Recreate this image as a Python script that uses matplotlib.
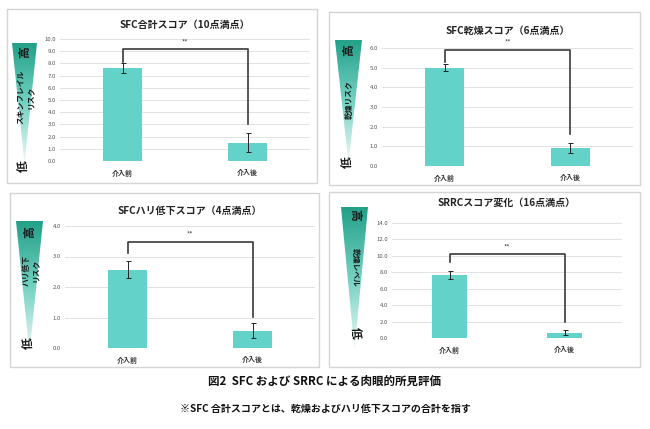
import numpy as np
import matplotlib
matplotlib.use("Agg")
import matplotlib.pyplot as plt
from matplotlib.patches import Rectangle, Polygon
from matplotlib.colors import LinearSegmentedColormap

plt.rcParams['font.family'] = ['Noto Sans CJK JP', 'DejaVu Sans']

W, H = 650, 429

categories = ['介入前', '介入後']

# values
sfc_total = [7.6, 1.5]
sfc_total_err = [0.4, 0.8]
sfc_dry = [5.0, 0.93]
sfc_dry_err = [0.17, 0.26]
sfc_firm = [2.57, 0.57]
sfc_firm_err = [0.28, 0.24]
srrc = [7.7, 0.62]
srrc_err = [0.5, 0.3]

titles = ['SFC合計スコア（10点満点）', 'SFC乾燥スコア（6点満点）',
          'SFCハリ低下スコア（4点満点）', 'SRRCスコア変化（16点満点）']
side_labels = ['スキンフレイル\nリスク', '乾燥リスク', 'ハリ低下\nリスク', '乾燥レベル']
ymax = [10, 6, 4, 14]
ystep = [1, 1, 1, 2]
# significance bracket: top, left end, right end (data units)
bracket_top = [9.15, 5.9, 3.47, 10.2]
bracket_left = [8.15, 5.3, 3.1, 9.3]
bracket_right = [3.0, 1.63, 1.03, 1.9]

values = [sfc_total, sfc_dry, sfc_firm, srrc]
errors = [sfc_total_err, sfc_dry_err, sfc_firm_err, srrc_err]

# layout in pixels (x0, y_top, x1, y_bottom)
axes_px = [(60, 39, 310, 161), (382, 48, 633, 166),
           (65, 226, 315, 348), (392, 223, 622, 338)]
border_px = [(7, 9, 317, 183), (329, 12, 640, 185),
             (10, 193, 319, 367), (329, 192, 640, 367)]
tri_px = [(12, 37, 43, 163), (335, 362, 40, 163),
          (16, 43, 221, 353), (341, 368, 207, 350)]
title_y = [25, 31, 211, 203]
hi_y = [52, 50, 232, 215]
lo_y = [166, 162, 343, 333]
side_y = [97, 100, 270, 267]
rot = [90, 90, 90, -90]

bar_color = '#63D3C9'
cmap = LinearSegmentedColormap.from_list('tri', ['#22A088', '#74D2C2', '#EEF9F7'])


def fx(x):
    return x / W


def fy(y):
    return 1 - y / H


fig = plt.figure(figsize=(W / 100, H / 100), dpi=100)

for i in range(4):
    # panel frame
    bx0, by0, bx1, by1 = border_px[i]
    fig.patches.append(Rectangle((fx(bx0), fy(by1)), fx(bx1 - bx0), (by1 - by0) / H,
                                 transform=fig.transFigure, fill=False,
                                 edgecolor='#D4D4D4', linewidth=1.0))

    x0, yt, x1, yb = axes_px[i]
    ax = fig.add_axes([fx(x0), fy(yb), fx(x1 - x0), (yb - yt) / H])
    xs = np.arange(len(categories))
    ax.bar(xs, values[i], width=0.31, color=bar_color, zorder=2)
    ax.errorbar(xs, values[i], yerr=errors[i], fmt='none', ecolor='#222222',
                elinewidth=0.7, capsize=1.8, capthick=0.7, zorder=3)
    ax.set_xlim(-0.5, 1.5)
    ax.set_ylim(0, ymax[i])
    ticks = np.arange(0, ymax[i] + 0.01, ystep[i])
    ax.set_yticks(ticks)
    ax.set_yticklabels(['%.1f' % v for v in ticks], fontsize=4.3, color='#555555')
    ax.set_xticks(xs)
    ax.set_xticklabels(categories, fontsize=5, fontweight='bold', color='#333333')
    ax.tick_params(length=0, pad=3)
    ax.tick_params(axis='x', pad=6)
    ax.grid(axis='y', color='#E2E2E2', linewidth=0.7, zorder=0)
    ax.set_axisbelow(True)
    for s in ax.spines.values():
        s.set_visible(False)
    fig.text(fx((x0 + x1) / 2), fy(title_y[i]), titles[i], fontsize=7.2,
             fontweight='bold', color='#222222', ha='center', va='center')

    # bracket
    ax.plot([0, 0, 1, 1], [bracket_left[i], bracket_top[i], bracket_top[i], bracket_right[i]],
            color='#3A3A3A', linewidth=1.2, zorder=4, clip_on=False)
    ax.text(0.5, bracket_top[i] + ymax[i] * 0.025, '**', ha='center', va='bottom',
            fontsize=5, color='#444444')

    # gradient triangle
    tx0, tx1, ty0, ty1 = tri_px[i]
    tax = fig.add_axes([fx(tx0 - 2), fy(ty1 + 2), fx(tx1 - tx0 + 4), (ty1 - ty0 + 4) / H])
    tax.set_xlim(tx0 - 2, tx1 + 2)
    tax.set_ylim(ty1 + 2, ty0 - 2)
    tax.axis('off')
    grad = np.linspace(0, 1, 256).reshape(-1, 1)
    im = tax.imshow(grad, cmap=cmap, aspect='auto', extent=(tx0, tx1, ty1, ty0), zorder=1)
    tri = Polygon([(tx0, ty0), (tx1, ty0), ((tx0 + tx1) / 2, ty1)], closed=True,
                  transform=tax.transData, facecolor='none', edgecolor='none')
    tax.add_patch(tri)
    im.set_clip_path(tri)

    cx = (tx0 + tx1) / 2
    fig.text(fx(cx), fy(hi_y[i]), '高', fontsize=8.5, fontweight='bold', rotation=rot[i],
             ha='center', va='center', color='#1A1A1A')
    fig.text(fx(cx), fy(lo_y[i]), '低', fontsize=8.5, fontweight='bold', rotation=rot[i],
             ha='center', va='center', color='#1A1A1A')
    fig.text(fx(cx + 1), fy(side_y[i]), side_labels[i], fontsize=5.6, fontweight='bold',
             rotation=rot[i], ha='center', va='center', color='#1A1A1A',
             linespacing=1.1, multialignment='center')

fig.text(0.5, fy(381), '図2  SFC および SRRC による肉眼的所見評価', fontsize=8.3,
         fontweight='bold', ha='center', va='center', color='#111111')
fig.text(0.5, fy(409), '※SFC 合計スコアとは、乾燥およびハリ低下スコアの合計を指す', fontsize=7.2,
         fontweight='bold', ha='center', va='center', color='#111111')

fig.savefig('out.png', dpi=100)
